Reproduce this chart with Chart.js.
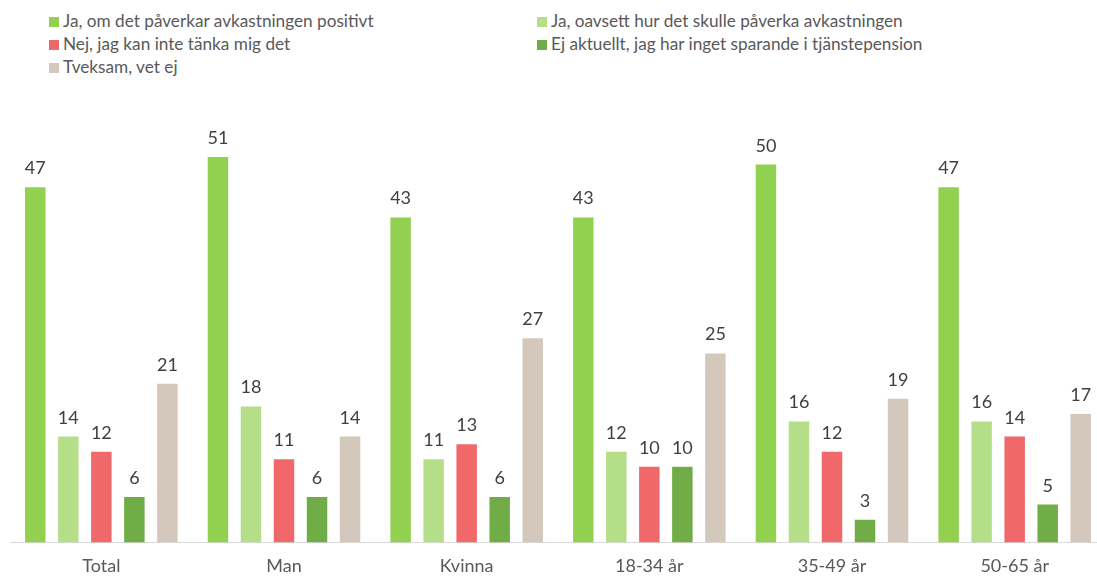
<!DOCTYPE html>
<html>
<head>
<meta charset="utf-8">
<script src="https://cdn.jsdelivr.net/npm/chart.js@4"></script>
<style>
    html, body { margin: 0; padding: 0; background: #fff; overflow: hidden; }
    body { width: 1097px; height: 576px; position: relative; font-family: Lato, "Open Sans", sans-serif; }
    #legend { position: absolute; left: 0; top: 0; width: 1097px; height: 80px; }
    .lg { position: absolute; font-size: 17.2px; color: #595959; white-space: nowrap; line-height: 20px; }
    .lg i { display: inline-block; width: 10px; height: 10px; margin-right: 4px; vertical-align: 0px; }
    #wrap { position: absolute; left: 0; top: 80px; width: 1106px; height: 510px; }
</style>
</head>
<body>
<div id="legend"></div>
<div id="wrap"><canvas id="chart"></canvas></div>
<script>
    var categories = ['Total', 'Man', 'Kvinna', '18-34 år', '35-49 år', '50-65 år'];
    var seriesNames = [
        'Ja, om det påverkar avkastningen positivt',
        'Ja, oavsett hur det skulle påverka avkastningen',
        'Nej, jag kan inte tänka mig det',
        'Ej aktuellt, jag har inget sparande i tjänstepension',
        'Tveksam, vet ej'
    ];
    var jaPositivt = [47, 51, 43, 43, 50, 47];
    var jaOavsett = [14, 18, 11, 12, 16, 16];
    var nej = [12, 11, 13, 10, 12, 14];
    var ejAktuellt = [6, 6, 6, 10, 3, 5];
    var tveksam = [21, 14, 27, 25, 19, 17];
    var colors = ['#92D050', '#B5DE89', '#F0686A', '#70AD47', '#D4C8BD'];

    // legend laid out as in the original: two columns
    var legendPos = [[49, 11], [537, 11], [49, 34], [537, 34], [49, 57]];
    var $legend = document.getElementById('legend');
    seriesNames.forEach(function (name, i) {
        var d = document.createElement('div');
        d.className = 'lg';
        d.style.left = legendPos[i][0] + 'px';
        d.style.top = legendPos[i][1] + 'px';
        d.innerHTML = '<i style="background:' + colors[i] + '"></i>' + name;
        $legend.appendChild(d);
    });

    var valueLabels = {
        id: 'valueLabels',
        afterDatasetsDraw: function (chart) {
            var ctx = chart.ctx;
            ctx.save();
            ctx.font = '18px Lato, "Open Sans", sans-serif';
            ctx.fillStyle = '#404040';
            ctx.textAlign = 'center';
            ctx.textBaseline = 'alphabetic';
            chart.data.datasets.forEach(function (ds, i) {
                chart.getDatasetMeta(i).data.forEach(function (bar, j) {
                    ctx.fillText(ds.data[j], bar.x, bar.y - 13);
                });
            });
            ctx.restore();
        }
    };

    var allSeries = [jaPositivt, jaOavsett, nej, ejAktuellt, tveksam];
    new Chart(document.getElementById('chart'), {
        type: 'bar',
        data: {
            labels: categories,
            datasets: allSeries.map(function (vals, i) {
                return {
                    label: seriesNames[i],
                    data: vals,
                    backgroundColor: colors[i],
                    categoryPercentage: 0.904,
                    barPercentage: 0.62
                };
            })
        },
        options: {
            responsive: true,
            maintainAspectRatio: false,
            animation: false,
            layout: { padding: { left: 10, right: 0, top: 9, bottom: 0 } },
            plugins: { legend: { display: false }, tooltip: { enabled: false } },
            scales: {
                x: {
                    grid: { display: false, drawTicks: false },
                    border: { color: '#D9D9D9', width: 1 },
                    ticks: {
                        color: '#595959',
                        padding: 13,
                        font: { size: 18, family: 'Lato, "Open Sans", sans-serif' }
                    }
                },
                y: {
                    display: false,
                    min: 0,
                    max: 60
                }
            }
        },
        plugins: [valueLabels]
    });
</script>
</body>
</html>
